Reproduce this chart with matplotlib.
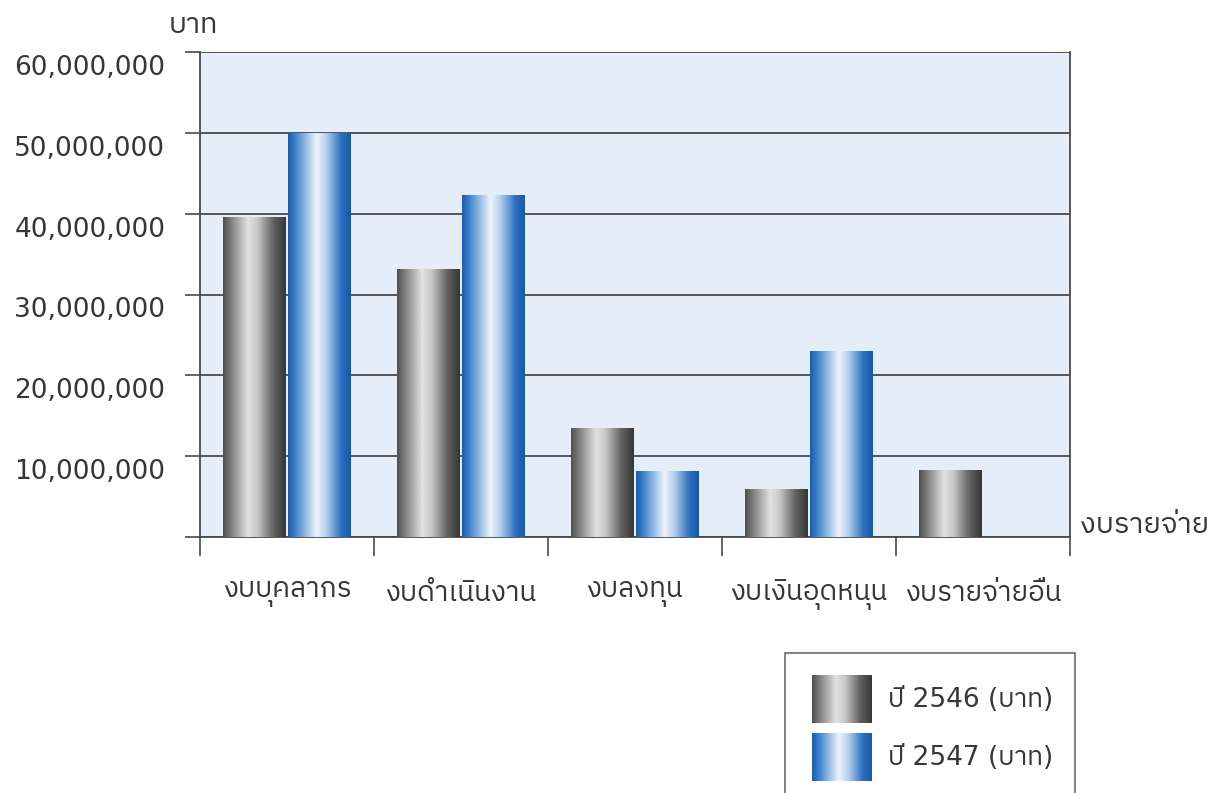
import numpy as np
import matplotlib
matplotlib.use("Agg")
import matplotlib.pyplot as plt
from matplotlib import font_manager as fm
from matplotlib.ft2font import FT2Font
from matplotlib.colors import LinearSegmentedColormap
from matplotlib.patches import Rectangle
from matplotlib.transforms import ScaledTranslation

# data (baht)
categories = ["งบบุคลากร", "งบดำเนินงาน", "งบลงทุน", "งบเงินอุดหนุน", "งบรายจ่ายอื่น"]
series_names = ["ปี 2546 (บาท)", "ปี 2547 (บาท)"]
values_2546 = [39_600_000, 33_200_000, 13_500_000, 6_000_000, 8_300_000]
values_2547 = [50_000_000, 42_300_000, 8_200_000, 23_000_000, 0]
y_ticks = [0, 10_000_000, 20_000_000, 30_000_000, 40_000_000, 50_000_000, 60_000_000]
y_tick_labels = ["", "10,000,000", "20,000,000", "30,000,000", "40,000,000",
                 "50,000,000", "60,000,000"]


def find_thai_font():
    fallback = None
    for f in fm.fontManager.ttflist:
        try:
            cmap = FT2Font(f.fname).get_charmap()
        except Exception:
            continue
        if 0x0E1A in cmap and 0x0E35 in cmap:
            if "Thai" in f.name and "Looped" not in f.name:
                return f.name
            fallback = fallback or f.name
    return fallback or "DejaVu Sans"


THAI = find_thai_font()
FAM = ["DejaVu Sans", THAI]
TEXT = "#363636"

gray_cmap = LinearSegmentedColormap.from_list("gray_bar", [
    (0.0, "#4e4e4e"), (0.12, "#7c7c7c"), (0.40, "#e2e2e2"),
    (0.55, "#c8c8c8"), (0.80, "#626262"), (1.0, "#363636")])
blue_cmap = LinearSegmentedColormap.from_list("blue_bar", [
    (0.0, "#1b5cab"), (0.12, "#3f83cd"), (0.45, "#eef4fb"),
    (0.60, "#b9d1ed"), (0.85, "#2c70c0"), (1.0, "#1757a6")])
GRAD = np.linspace(0, 1, 256).reshape(1, -1)


def shade(ax, patch, cmap):
    x0, y0 = patch.get_x(), patch.get_y()
    w, h = patch.get_width(), patch.get_height()
    if h <= 0:
        return
    im = ax.imshow(GRAD, cmap=cmap, aspect="auto", interpolation="bicubic",
                   extent=(x0, x0 + w, y0, y0 + h), zorder=3)
    im.set_clip_path(patch)


fig = plt.figure(figsize=(12.2, 7.93), dpi=100)
ax = fig.add_axes([200 / 1220, 1 - 537 / 793, 870 / 1220, 485 / 793])
ax.set_facecolor("#e5eef8")

x = np.arange(len(categories))
bw = 0.36
bars_a = ax.bar(x - bw / 2 - 0.007, values_2546, width=bw, color="none",
                edgecolor="none", zorder=3)
bars_b = ax.bar(x + bw / 2 + 0.007, values_2547, width=bw, color="none",
                edgecolor="none", zorder=3)
for p in bars_a:
    shade(ax, p, gray_cmap)
for p in bars_b:
    shade(ax, p, blue_cmap)

ax.set_xlim(-0.5, len(categories) - 0.5)
ax.set_ylim(0, 60_000_000)

ax.set_yticks(y_ticks)
ax.set_yticklabels(y_tick_labels, fontsize=19, color=TEXT, family="DejaVu Sans")
ax.yaxis.grid(True, color="#4a4a4a", linewidth=1.3)
ax.set_axisbelow(True)
ax.tick_params(axis="y", length=11, width=1.2, color="#4a4a4a", pad=14)
shift = ScaledTranslation(0, -13 / 100, fig.dpi_scale_trans)
for lab in ax.get_yticklabels():
    lab.set_transform(lab.get_transform() + shift)

ax.set_xticks(np.arange(len(categories) + 1) - 0.5)
ax.set_xticklabels([])
ax.tick_params(axis="x", which="major", length=14, width=1.2, color="#4a4a4a")
ax.set_xticks(x, minor=True)
ax.set_xticklabels(categories, minor=True, fontsize=20, color=TEXT, family=FAM)
ax.tick_params(axis="x", which="minor", length=0, pad=30)

for side in ["left", "bottom", "right"]:
    ax.spines[side].set_color("#4a4a4a")
    ax.spines[side].set_linewidth(1.3)
ax.spines["top"].set_visible(False)

fig.text(193 / 1220, 1 - 25 / 793, "บาท", fontsize=21, color=TEXT,
         family=FAM, ha="center", va="center")
fig.text(1080 / 1220, 1 - 525 / 793, "งบรายจ่าย", fontsize=21, color=TEXT,
         family=FAM, ha="left", va="center")

# legend box, partly cut by the bottom edge like the scan
lax = fig.add_axes([0, 0, 1, 1], zorder=5)
lax.set_xlim(0, 1220)
lax.set_ylim(793, 0)
lax.axis("off")
lax.add_patch(Rectangle((785, 653), 290, 200, facecolor="white",
                        edgecolor="#777777", linewidth=1.3))
for i, (name, cmap) in enumerate(zip(series_names, [gray_cmap, blue_cmap])):
    top = 675 + i * 58
    sw = Rectangle((812, top), 60, 48, facecolor="none", edgecolor="none")
    lax.add_patch(sw)
    im = lax.imshow(GRAD, cmap=cmap, aspect="auto", interpolation="bicubic",
                    extent=(812, 872, top + 48, top), zorder=6)
    im.set_clip_path(sw)
    lax.text(888, top + 25, name, fontsize=19, color=TEXT, family=FAM,
             ha="left", va="center")
lax.set_xlim(0, 1220)
lax.set_ylim(793, 0)

fig.savefig("out.png", dpi=100)
